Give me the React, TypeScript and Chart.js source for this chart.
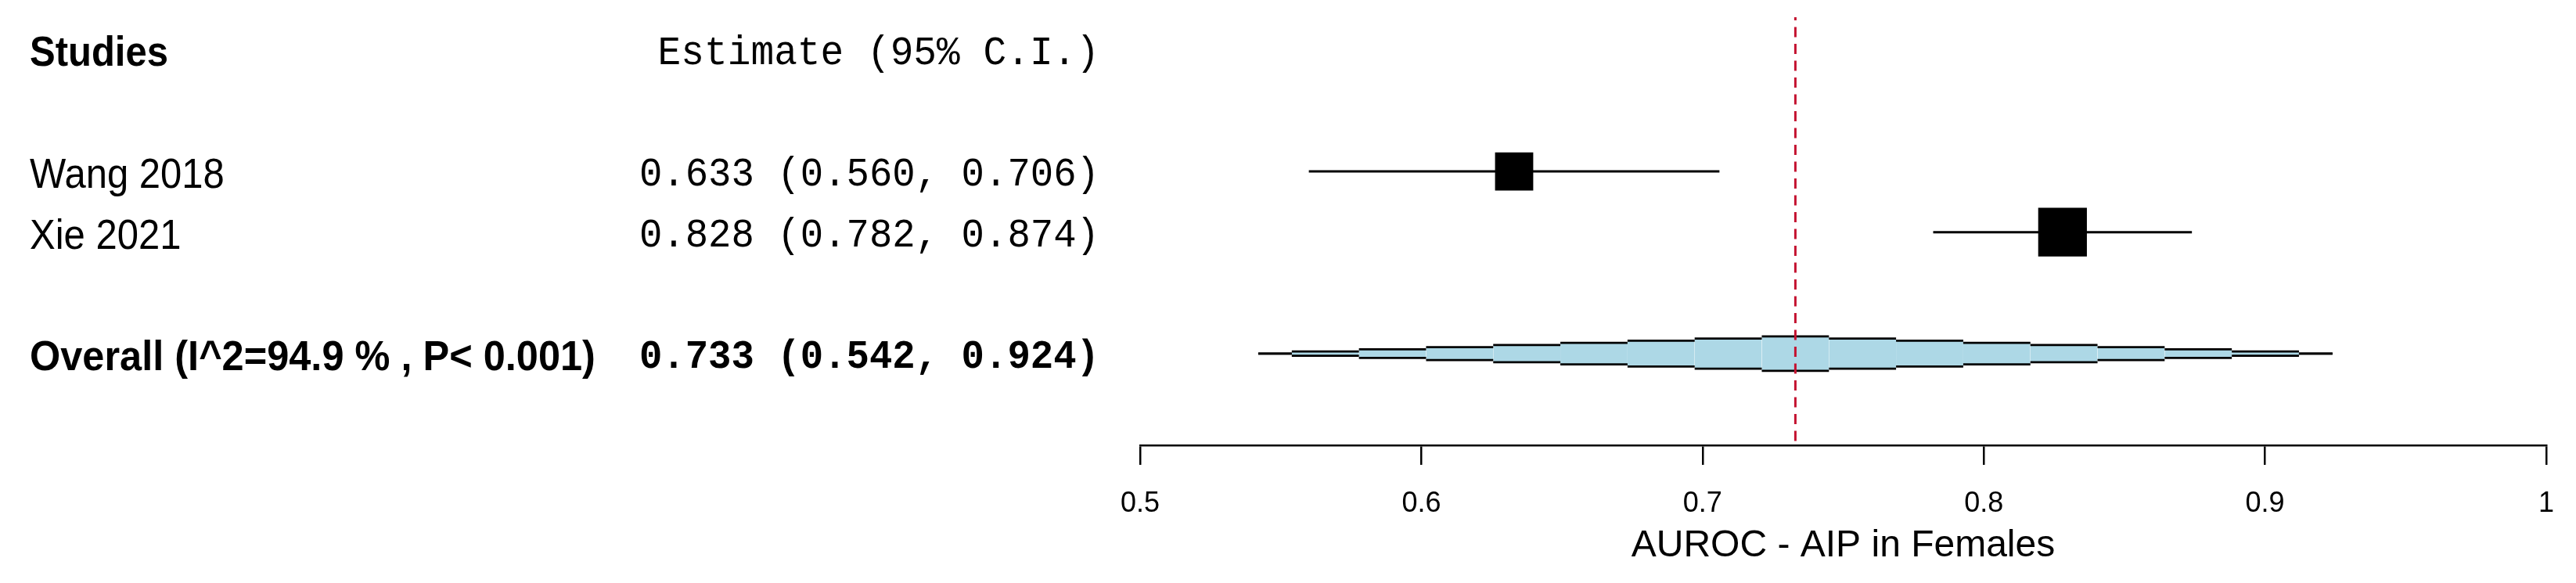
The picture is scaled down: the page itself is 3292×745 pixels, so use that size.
import React, { useEffect, useRef } from "react";
import { Chart, registerables } from "chart.js";

Chart.register(...registerables);

// ---- data ----
const headerLabels = ["Studies", "Estimate (95% C.I.)"];
const studyLabels = ["Wang 2018", "Xie 2021"];
const studyEstimates = [0.633, 0.828];
const studyLower = [0.56, 0.782];
const studyUpper = [0.706, 0.874];
const studyRows = [2, 3];
const overallLabel = "Overall (I^2=94.9 % , P< 0.001)";
const overallEstimate = 0.733;
const overallLower = 0.542;
const overallUpper = 0.924;
const overallRow = 5;
const tickValues = [0.5, 0.6, 0.7, 0.8, 0.9, 1];
const tickLabels = ["0.5", "0.6", "0.7", "0.8", "0.9", "1"];
const axisTitle = "AUROC - AIP in Females";

// ---- styles ----
const SANS = '"Liberation Sans", Arial, sans-serif';
const MONO = '"Liberation Mono", "Courier New", monospace';
const Y_MIN = -0.54;
const Y_MAX = 6.51;
const DIAMOND_HALF = 0.284; // max half height of the pooled diamond, in row units
const DIAMOND_STEPS = 8;
const BOX_RADII = [34.5, 44];

const fmt = (v: number) => v.toFixed(3);
const ciText = (e: number, l: number, u: number) => `${fmt(e)} (${fmt(l)}, ${fmt(u)})`;

function diamondOutline(sign: number) {
  const lw = overallEstimate - overallLower;
  const rw = overallUpper - overallEstimate;
  const b = (t: number) => {
    if (t <= -DIAMOND_STEPS) return overallLower;
    if (t >= DIAMOND_STEPS) return overallUpper;
    return overallEstimate + (t < 0 ? (t * lw) / DIAMOND_STEPS : (t * rw) / DIAMOND_STEPS);
  };
  const pts: { x: number; y: number }[] = [];
  for (let k = -DIAMOND_STEPS; k <= DIAMOND_STEPS; k++) {
    const h = DIAMOND_HALF * (1 - Math.abs(k) / DIAMOND_STEPS);
    const y = overallRow + sign * h;
    pts.push({ x: b(k - 0.5), y });
    pts.push({ x: b(k + 0.5), y });
  }
  return pts;
}

const textPlugin = {
  id: "forestText",
  afterDraw(chart: any) {
    const ctx = chart.ctx as CanvasRenderingContext2D;
    const ys = chart.scales.y;
    const leftX = 38;
    const rightX = 1405;
    const draw = (text: string, x: number, y: number, font: string, align: CanvasTextAlign, stretch: number) => {
      ctx.save();
      ctx.font = font;
      ctx.textAlign = align;
      ctx.textBaseline = "alphabetic";
      ctx.fillStyle = "#000";
      ctx.translate(x, y);
      ctx.scale(1, stretch);
      ctx.fillText(text, 0, 0);
      ctx.restore();
    };
    const sansOff = 21;
    const monoOff = 18;
    const r0 = ys.getPixelForValue(0);
    draw(headerLabels[0], leftX, r0 + 20, `bold 49px ${SANS}`, "left", 1.08);
    draw(headerLabels[1], rightX, r0 + monoOff, `49.5px ${MONO}`, "right", 1.04);
    studyLabels.forEach((lab, i) => {
      const py = ys.getPixelForValue(studyRows[i]);
      draw(lab, leftX, py + sansOff, `49px ${SANS}`, "left", 1.08);
      draw(ciText(studyEstimates[i], studyLower[i], studyUpper[i]), rightX, py + monoOff, `49px ${MONO}`, "right", 1.04);
    });
    const po = ys.getPixelForValue(overallRow);
    draw(overallLabel, leftX, po + sansOff, `bold 50.5px ${SANS}`, "left", 1.06);
    draw(ciText(overallEstimate, overallLower, overallUpper), rightX, po + monoOff, `bold 49px ${MONO}`, "right", 1.04);
  },
};

export default function App() {
  const ref = useRef<HTMLCanvasElement>(null);
  useEffect(() => {
    const canvas = ref.current!;
    const vertical = (c: any) => Math.abs(c.p0.x - c.p1.x) < 0.01;
    const datasets: any[] = [
      {
        label: "pooled",
        data: [
          { x: overallEstimate, y: Y_MIN },
          { x: overallEstimate, y: Y_MAX },
        ],
        borderColor: "#c41230",
        borderWidth: 3,
        borderDash: [13, 8.5],
        borderDashOffset: 9,
        pointRadius: 0,
        fill: false,
      },
      {
        label: "boxes",
        data: studyEstimates.map((e, i) => ({ x: e, y: studyRows[i] })),
        showLine: false,
        pointStyle: "rect",
        pointRadius: BOX_RADII,
        pointBackgroundColor: "#000",
        pointBorderColor: "#000",
        pointBorderWidth: 0,
      },
      ...studyEstimates.map((_, i) => ({
        label: studyLabels[i],
        data: [
          { x: studyLower[i], y: studyRows[i] },
          { x: studyUpper[i], y: studyRows[i] },
        ],
        borderColor: "#000",
        borderWidth: 3,
        pointRadius: 0,
        fill: false,
      })),
      {
        label: "diamondTop",
        data: diamondOutline(-1),
        borderColor: "#000",
        borderWidth: 2.8,
        backgroundColor: "#add8e6",
        pointRadius: 0,
        fill: "+1",
        segment: { borderColor: (c: any) => (vertical(c) ? "rgba(0,0,0,0)" : "#000") },
      },
      {
        label: "diamondBottom",
        data: diamondOutline(1),
        borderColor: "#000",
        borderWidth: 2.8,
        pointRadius: 0,
        fill: false,
        segment: { borderColor: (c: any) => (vertical(c) ? "rgba(0,0,0,0)" : "#000") },
      },
    ];

    const chart = new Chart(canvas, {
      type: "line",
      data: { datasets },
      options: {
        responsive: false,
        devicePixelRatio: 1,
        animation: false,
        events: [],
        layout: { autoPadding: false, padding: { left: 1457, right: 30, top: 22, bottom: 0 } },
        plugins: {
          legend: { display: false },
          tooltip: { enabled: false },
          filler: { drawTime: "beforeDatasetsDraw" },
        },
        elements: { line: { tension: 0 } },
        scales: {
          x: {
            type: "linear",
            min: 0.5,
            max: 1,
            afterBuildTicks: (s: any) => {
              s.ticks = tickValues.map((v) => ({ value: v }));
            },
            afterFit: (s: any) => {
              s.height = 176;
            },
            ticks: {
              callback: (_v: any, i: number) => tickLabels[i],
              font: { family: SANS, size: 36 },
              color: "#000",
              padding: 28,
              autoSkip: false,
              maxRotation: 0,
            },
            grid: {
              drawOnChartArea: false,
              drawTicks: true,
              tickLength: 25,
              color: "#000",
              lineWidth: 2.5,
            },
            border: { display: true, color: "#000", width: 2.5 },
            title: {
              display: true,
              text: axisTitle,
              font: { family: SANS, size: 48 },
              color: "#000",
              padding: { top: 0, bottom: 18 },
            },
          },
          y: {
            type: "linear",
            display: false,
            reverse: true,
            min: Y_MIN,
            max: Y_MAX,
          },
        },
      } as any,
      plugins: [textPlugin],
    });
    return () => chart.destroy();
  }, []);

  return (
    <div style={{ position: "fixed", left: 0, top: 0, width: 3292, height: 745, background: "#fff" }}>
      <canvas ref={ref} width={3292} height={745} style={{ display: "block", width: 3292, height: 745 }} />
    </div>
  );
}
